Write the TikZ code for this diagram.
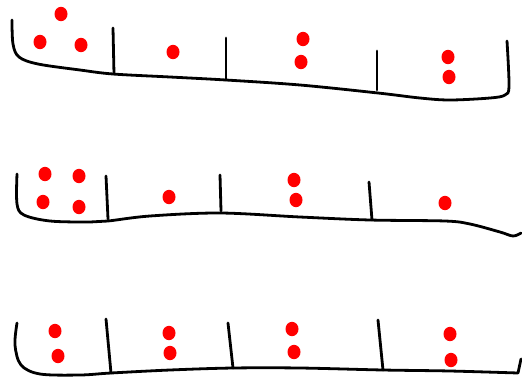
\documentclass[tikz,border=0pt]{standalone}
\begin{document}
\begin{tikzpicture}[x=1pt,y=-1pt,
  tray/.style={line width=2.8pt, line cap=round, line join=round, black},
  divider/.style={line width=2.8pt, line cap=round, black},
  egg/.style={fill=red, draw=none}]
\useasboundingbox (0,0) rectangle (522,378);
% ---------- row 1 ----------
\draw[tray] plot[smooth, tension=0.55] coordinates {(12,20) (13,44) (19,57) (38,64) (80,70) (113,74) (170,77) (226,80) (300,85) (378,93) (420,98) (450,100) (490,98) (505,95) (509,86) (507,41)};
\draw[divider] (113,28) -- (114,74);
\draw[divider] (226,38) -- (226,80);
\draw[divider] (377,51) -- (377,90);
\foreach \p in {(61,14),(40,42),(81,45),(173,52),(303,39),(301,62),(448,57),(449,77)}
  \fill[egg] \p ellipse (6.5 and 7.2);
% ---------- row 2 ----------
\draw[tray] plot[smooth, tension=0.55] coordinates {(17,174) (17,204) (24,215) (50,221) (90,222) (108,221) (150,216) (220,213) (300,217) (370,220) (445,221) (470,224) (500,232) (513,236) (521,233)};
\draw[divider] (106,176) -- (108,219);
\draw[divider] (220,175) -- (221,211);
\draw[divider] (369,182) -- (372,220);
\foreach \p in {(45,174),(79,176),(43,202),(79,207),(169,197),(294,180),(296,200),(445,203)}
  \fill[egg] \p ellipse (6.5 and 7.2);
% ---------- row 3 ----------
\draw[tray] plot[smooth, tension=0.55] coordinates {(17,323) (15,345) (21,365) (40,374) (80,375) (111,373) (170,370) (233,368) (300,368) (383,370) (450,371) (518,373)} -- (521,359);
\draw[divider] (106,319) -- (111,373);
\draw[divider] (228,323) -- (233,368);
\draw[divider] (378,320) -- (383,370);
\foreach \p in {(55,331),(58,356),(169,333),(170,353),(292,329),(294,352),(450,334),(451,360)}
  \fill[egg] \p ellipse (6.5 and 7.2);
\end{tikzpicture}
\end{document}
